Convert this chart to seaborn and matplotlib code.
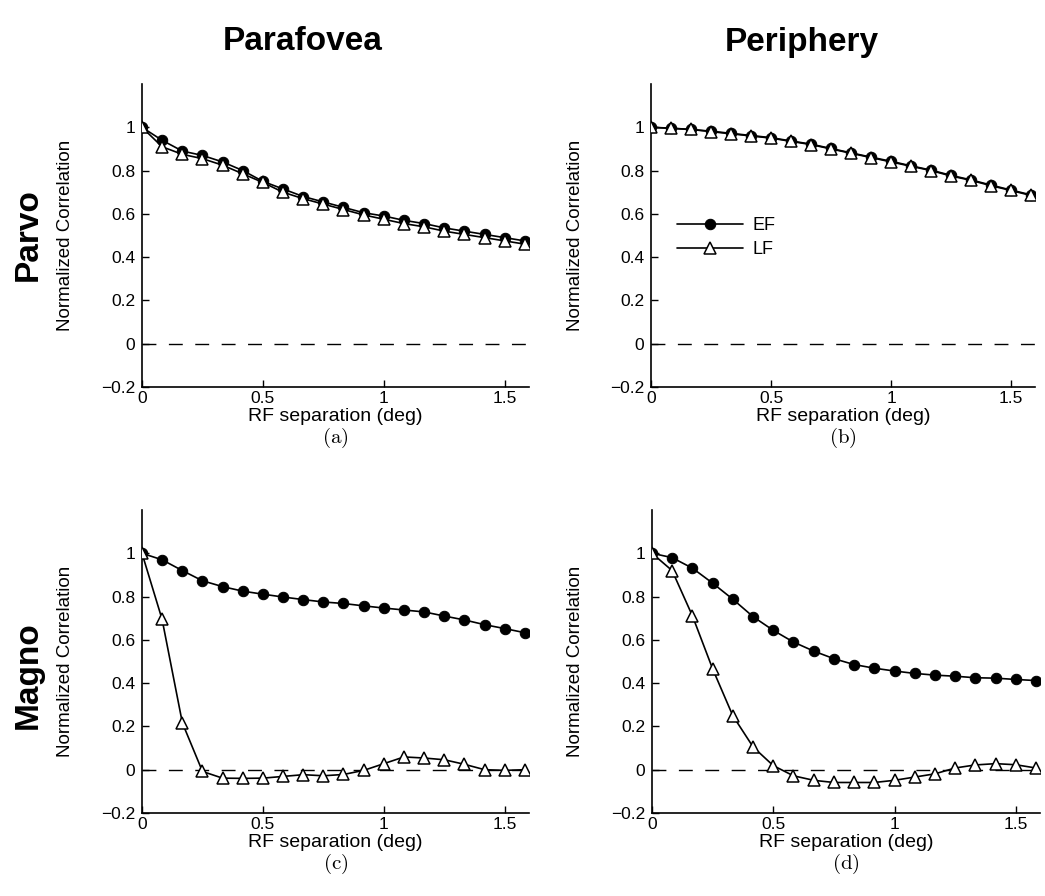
import matplotlib
matplotlib.use("Agg")
import matplotlib.pyplot as plt
import seaborn as sns
import pandas as pd

# RF separation (deg), 20 sample points
rf_sep = [0.0, 0.083, 0.167, 0.25, 0.333, 0.417, 0.5, 0.583, 0.667, 0.75,
          0.833, 0.917, 1.0, 1.083, 1.167, 1.25, 1.333, 1.417, 1.5, 1.583]

# (a) Parvo / Parafovea
parvo_para_ef = [1.0, 0.94, 0.89, 0.87, 0.84, 0.80, 0.75, 0.715, 0.68, 0.655,
                 0.63, 0.605, 0.59, 0.57, 0.555, 0.535, 0.52, 0.505, 0.49, 0.475]
parvo_para_lf = [1.0, 0.91, 0.875, 0.855, 0.825, 0.785, 0.745, 0.70, 0.67, 0.645,
                 0.62, 0.595, 0.575, 0.555, 0.54, 0.52, 0.505, 0.49, 0.475, 0.46]

# (b) Parvo / Periphery
parvo_peri_ef = [1.0, 0.996, 0.99, 0.982, 0.972, 0.962, 0.952, 0.937, 0.922, 0.902,
                 0.882, 0.862, 0.843, 0.822, 0.802, 0.778, 0.757, 0.733, 0.71, 0.688]
parvo_peri_lf = [1.0, 0.995, 0.99, 0.98, 0.97, 0.96, 0.95, 0.935, 0.92, 0.90,
                 0.88, 0.86, 0.84, 0.82, 0.80, 0.775, 0.755, 0.73, 0.708, 0.685]

# (c) Magno / Parafovea
magno_para_ef = [1.0, 0.97, 0.92, 0.873, 0.846, 0.825, 0.811, 0.798, 0.786, 0.775,
                 0.768, 0.757, 0.747, 0.738, 0.729, 0.71, 0.692, 0.67, 0.652, 0.633]
magno_para_lf = [1.0, 0.695, 0.216, -0.008, -0.039, -0.04, -0.039, -0.031, -0.023, -0.028,
                 -0.022, -0.003, 0.028, 0.059, 0.054, 0.046, 0.025, 0.0, -0.003, 0.0]

# (d) Magno / Periphery
magno_peri_ef = [1.0, 0.98, 0.931, 0.862, 0.788, 0.707, 0.644, 0.59, 0.548, 0.513,
                 0.486, 0.469, 0.456, 0.445, 0.437, 0.432, 0.425, 0.423, 0.417, 0.412]
magno_peri_lf = [1.0, 0.92, 0.71, 0.466, 0.25, 0.105, 0.019, -0.028, -0.049, -0.059,
                 -0.059, -0.059, -0.049, -0.034, -0.019, 0.008, 0.022, 0.028, 0.023, 0.008]

col_titles = ["Parafovea", "Periphery"]
row_titles = ["Parvo", "Magno"]
panel_tags = ["(a)", "(b)", "(c)", "(d)"]
y_ticks = [-0.2, 0, 0.2, 0.4, 0.6, 0.8, 1]
y_tick_labels = ["\u22120.2", "0", "0.2", "0.4", "0.6", "0.8", "1"]
x_ticks = [0, 0.5, 1, 1.5]
x_tick_labels = ["0", "0.5", "1", "1.5"]

sns.set_style("ticks")
plt.rcParams["font.family"] = ["Liberation Sans", "DejaVu Sans"]
plt.rcParams["mathtext.fontset"] = "cm"
plt.rcParams["xtick.direction"] = "in"
plt.rcParams["ytick.direction"] = "in"
plt.rcParams["text.color"] = "black"
plt.rcParams["axes.labelcolor"] = "black"

fig = plt.figure(figsize=(10.45, 8.96), dpi=100)
W, H = 1045, 896
boxes = [(142, 84, 387, 303), (651, 84, 384, 303),
         (142, 510, 387, 303), (652, 510, 388, 303)]
axes = [fig.add_axes([x / W, 1 - (y + h) / H, w / W, h / H]) for x, y, w, h in boxes]

series = [(parvo_para_ef, parvo_para_lf), (parvo_peri_ef, parvo_peri_lf),
          (magno_para_ef, magno_para_lf), (magno_peri_ef, magno_peri_lf)]

for i, (ax, (ef, lf)) in enumerate(zip(axes, series)):
    df = pd.DataFrame({"sep": rf_sep, "EF": ef, "LF": lf})
    ax.axhline(0, color="black", lw=1.0, dashes=(10, 9), zorder=1)
    sns.lineplot(data=df, x="sep", y="EF", ax=ax, color="black", lw=1.2,
                 marker="o", markersize=7.5, markerfacecolor="black",
                 markeredgecolor="black", label="EF", zorder=3)
    sns.lineplot(data=df, x="sep", y="LF", ax=ax, color="black", lw=1.2,
                 marker="^", markersize=9, markerfacecolor="white",
                 markeredgecolor="black", markeredgewidth=1.1, label="LF", zorder=4)
    ax.set_xlim(0, 1.6)
    ax.set_ylim(-0.2, 1.2)
    ax.set_xticks(x_ticks)
    ax.set_xticklabels(x_tick_labels)
    ax.set_yticks(y_ticks)
    ax.set_yticklabels(y_tick_labels)
    ax.tick_params(labelsize=12.5, length=5, width=1, colors="black")
    ax.tick_params(axis="x", pad=3)
    ax.tick_params(axis="y", pad=5)
    for s in ["top", "right"]:
        ax.spines[s].set_visible(False)
    for s in ["left", "bottom"]:
        ax.spines[s].set_linewidth(1.2)
        ax.spines[s].set_color("black")
    ax.set_xlabel("RF separation (deg)", fontsize=14)
    ax.set_ylabel("Normalized Correlation", fontsize=13.5)
    ax.yaxis.set_label_coords(-0.175, 0.5)
    ax.xaxis.set_label_coords(0.5, -0.07)
    ax.text(0.5, -0.168, r"$\mathrm{" + panel_tags[i] + "}$", transform=ax.transAxes,
            ha="center", va="center", fontsize=15)
    if i == 1:
        ax.legend(loc="center left", bbox_to_anchor=(0.107, 0.49),
                  bbox_transform=ax.transData, frameon=False, fontsize=13,
                  handlelength=3.7, handletextpad=0.5, labelspacing=0.42,
                  borderpad=0, borderaxespad=0, labelcolor="black")
    else:
        ax.get_legend().remove()

fig.text(303 / W, 1 - 42 / H, col_titles[0], ha="center", va="center",
         fontsize=24, fontweight="bold")
fig.text(802 / W, 1 - 42 / H, col_titles[1], ha="center", va="center",
         fontsize=24, fontweight="bold")
fig.text(28 / W, 1 - 235 / H, row_titles[0], ha="center", va="center",
         fontsize=24, fontweight="bold", rotation=90)
fig.text(28 / W, 1 - 675 / H, row_titles[1], ha="center", va="center",
         fontsize=24, fontweight="bold", rotation=90)

fig.savefig("out.png", dpi=100, facecolor="white")
